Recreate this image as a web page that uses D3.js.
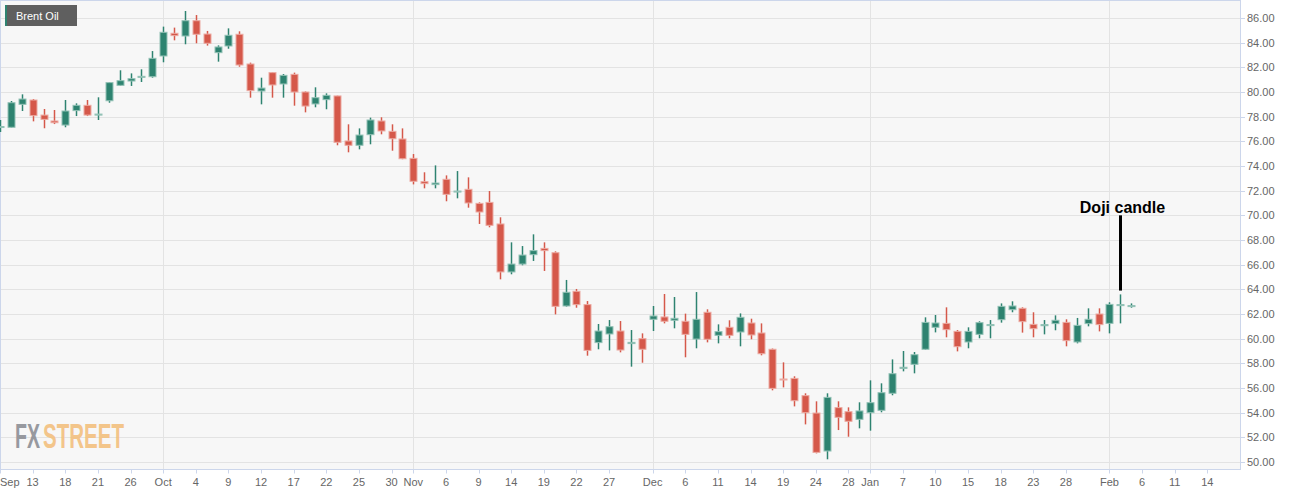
<!DOCTYPE html>
<html>
<head>
<meta charset="utf-8">
<script src="https://cdn.jsdelivr.net/npm/d3@7/dist/d3.min.js"></script>
<style>
  html, body { margin: 0; padding: 0; background: #ffffff; }
  svg { display: block; font-family: "Liberation Sans", Arial, sans-serif; }
</style>
</head>
<body>
<svg id="chart" width="1299" height="495"></svg>
<script>
// ---- data (trading days) ----
const dates = [
  "2018-09-10","2018-09-11","2018-09-12","2018-09-13","2018-09-14","2018-09-17","2018-09-18","2018-09-19","2018-09-20","2018-09-21",
  "2018-09-24","2018-09-25","2018-09-26","2018-09-27","2018-09-28","2018-10-01","2018-10-02","2018-10-03","2018-10-04","2018-10-05",
  "2018-10-08","2018-10-09","2018-10-10","2018-10-11","2018-10-12","2018-10-15","2018-10-16","2018-10-17","2018-10-18","2018-10-19",
  "2018-10-22","2018-10-23","2018-10-24","2018-10-25","2018-10-26","2018-10-29","2018-10-30","2018-10-31","2018-11-01","2018-11-02",
  "2018-11-05","2018-11-06","2018-11-07","2018-11-08","2018-11-09","2018-11-12","2018-11-13","2018-11-14","2018-11-15","2018-11-16",
  "2018-11-19","2018-11-20","2018-11-21","2018-11-22","2018-11-23","2018-11-26","2018-11-27","2018-11-28","2018-11-29","2018-11-30",
  "2018-12-03","2018-12-04","2018-12-05","2018-12-06","2018-12-07","2018-12-10","2018-12-11","2018-12-12","2018-12-13","2018-12-14",
  "2018-12-17","2018-12-18","2018-12-19","2018-12-20","2018-12-21","2018-12-24","2018-12-26","2018-12-27","2018-12-28","2018-12-31",
  "2019-01-02","2019-01-03","2019-01-04","2019-01-07","2019-01-08","2019-01-09","2019-01-10","2019-01-11","2019-01-14","2019-01-15",
  "2019-01-16","2019-01-17","2019-01-18","2019-01-21","2019-01-22","2019-01-23","2019-01-24","2019-01-25","2019-01-28","2019-01-29",
  "2019-01-30","2019-01-31","2019-02-01","2019-02-04","2019-02-05"
];
const futureDates = ["2019-02-06","2019-02-07","2019-02-08","2019-02-11","2019-02-12","2019-02-13","2019-02-14","2019-02-15","2019-02-18","2019-02-19"];

const open = [
  77.15,77.14,79.00,79.35,78.13,77.65,77.32,78.49,78.92,78.17,
  79.29,80.54,80.89,81.19,81.24,82.92,84.76,84.54,85.78,84.70,
  83.19,83.73,84.68,82.27,80.08,81.57,80.65,81.43,80.00,79.03,
  79.38,79.68,76.03,75.68,76.54,77.65,76.81,76.19,74.62,72.73,
  72.49,72.92,71.89,72.11,70.97,71.05,69.30,65.41,66.05,66.81,
  67.32,66.97,62.65,63.84,62.76,59.68,60.38,60.62,59.60,60.00,
  61.57,61.76,61.49,61.41,59.97,62.14,60.27,60.92,60.54,61.27,
  60.46,59.14,56.73,56.78,55.38,53.97,50.89,54.41,54.08,53.46,
  54.00,54.19,55.57,57.59,57.92,59.14,60.92,61.24,60.59,59.73,
  60.35,61.10,61.54,62.35,62.46,61.16,61.05,61.22,61.32,59.73,
  61.22,62.00,61.24,62.72,62.62
];
const high = [
  77.73,79.27,79.81,79.43,78.62,78.54,79.35,79.08,79.35,79.57,
  80.80,81.76,81.51,81.84,83.32,85.30,85.22,86.57,86.24,84.95,
  83.78,85.16,84.92,82.38,81.16,81.60,81.46,81.57,80.05,80.38,
  79.89,79.70,77.38,77.05,77.92,77.95,77.38,77.05,74.97,73.49,
  74.05,73.24,73.59,73.08,71.05,71.97,69.84,67.81,67.51,68.46,
  67.81,67.08,64.76,64.03,63.05,61.19,61.51,61.43,60.70,60.43,
  62.65,63.62,63.38,62.03,63.78,62.38,61.16,61.49,62.05,61.62,
  61.24,59.20,58.08,56.95,55.57,54.92,55.57,54.92,54.43,54.84,
  56.62,56.38,58.32,59.00,58.92,61.73,61.92,62.54,60.70,60.92,
  61.41,61.51,62.86,63.03,62.54,62.14,61.51,61.89,61.57,61.68,
  62.46,62.46,62.95,63.59,62.86
];
const low = [
  76.76,77.12,78.46,77.62,77.06,77.40,77.14,78.05,78.05,77.73,
  79.13,80.49,80.49,80.81,81.16,82.41,84.19,83.87,83.95,83.76,
  82.46,83.51,82.05,79.54,79.00,79.54,79.54,78.89,78.35,78.76,
  78.60,75.68,75.11,75.35,75.76,76.57,75.24,74.55,72.51,72.19,
  72.19,71.14,71.38,70.62,69.30,69.03,64.81,65.22,65.95,66.30,
  65.49,61.97,62.60,62.51,58.62,59.14,59.05,58.89,57.73,58.05,
  60.62,61.24,60.84,58.49,59.22,59.70,59.62,60.03,59.38,59.95,
  58.65,55.81,56.05,54.51,53.05,50.70,50.22,52.59,52.05,52.73,
  52.54,54.03,55.41,57.35,57.19,59.10,60.51,60.11,58.97,59.22,
  60.03,60.03,61.30,62.14,60.49,60.11,60.35,60.68,59.38,59.62,
  61.00,60.59,60.43,61.24,62.51
];
const close = [
  77.20,79.13,79.43,78.08,77.78,77.51,78.46,78.92,78.13,78.21,
  80.76,80.92,81.08,81.27,82.73,84.84,84.57,85.78,84.68,83.95,
  83.65,84.60,82.19,80.11,80.32,80.57,81.35,80.00,78.86,79.54,
  79.73,75.92,75.68,76.51,77.73,76.84,76.21,74.59,72.76,72.57,
  72.62,71.70,71.97,71.00,70.27,69.19,65.41,66.05,66.78,67.14,
  67.14,62.62,63.76,62.76,59.05,60.62,60.97,59.08,59.70,59.14,
  61.84,61.41,61.65,60.35,61.57,59.95,60.57,60.27,61.73,60.30,
  58.78,55.97,56.68,54.97,54.00,50.78,55.24,53.62,53.30,54.14,
  54.81,55.62,57.16,57.68,58.70,61.32,61.27,60.73,59.35,60.59,
  61.30,61.14,62.62,62.65,61.38,60.81,61.14,61.49,59.84,61.08,
  61.57,61.14,62.78,62.76,62.68
];

const yTicks = [50,52,54,56,58,60,62,64,66,68,70,72,74,76,78,80,82,84,86];
const xTickDates = ["2018-09-10","2018-09-13","2018-09-18","2018-09-21","2018-09-26","2018-10-01","2018-10-04","2018-10-09","2018-10-12",
  "2018-10-17","2018-10-22","2018-10-25","2018-10-30","2018-11-01","2018-11-06","2018-11-09","2018-11-14","2018-11-19","2018-11-22",
  "2018-11-27","2018-12-03","2018-12-06","2018-12-11","2018-12-14","2018-12-19","2018-12-24","2018-12-28","2019-01-02","2019-01-07",
  "2019-01-10","2019-01-15","2019-01-18","2019-01-23","2019-01-28","2019-02-01","2019-02-06","2019-02-11","2019-02-14"];
const xTickLabels = ["Sep","13","18","21","26","Oct","4","9","12","17","22","25","30","Nov","6","9","14","19","22","27",
  "Dec","6","11","14","19","24","28","Jan","7","10","15","18","23","28","Feb","6","11","14"];
const monthStarts = ["2018-10-01","2018-11-01","2018-12-03","2019-01-02","2019-02-01"];

const seriesName = "Brent Oil";
const annotationText = "Doji candle";
const annotationDate = "2019-02-04";
const logoParts = ["FX", "STREET"];

// ---- layout ----
const plot = {left: 0, right: 1240, top: 0.5, bottom: 469.5};
const allDates = dates.concat(futureDates);
const idx = d => allDates.indexOf(d);

const x = d3.scaleLinear().domain([0, 114]).range([plot.left, plot.right]);
const y = d3.scaleLinear().domain([50, 86]).range([462, 18]);

const svg = d3.select("#chart");

svg.append("rect").attr("x", plot.left).attr("y", plot.top)
  .attr("width", plot.right - plot.left).attr("height", plot.bottom - plot.top)
  .attr("fill", "#f7f7f7");

// horizontal grid
svg.append("g").selectAll("line").data(yTicks).join("line")
  .attr("x1", plot.left).attr("x2", plot.right)
  .attr("y1", d => Math.round(y(d)) + 0.5).attr("y2", d => Math.round(y(d)) + 0.5)
  .attr("stroke", "#e3e3e3").attr("stroke-width", 1);

// vertical month grid
svg.append("g").selectAll("line").data(monthStarts).join("line")
  .attr("x1", d => Math.round(x(idx(d))) + 0.5).attr("x2", d => Math.round(x(idx(d))) + 0.5)
  .attr("y1", plot.top).attr("y2", plot.bottom)
  .attr("stroke", "#e3e3e3").attr("stroke-width", 1);

// logo watermark: each part squeezed horizontally with a transform
const logo = svg.append("g").attr("opacity", 0.9);
const logoSpec = [
  {t: logoParts[0], x0: 15, w: 25, fill: "#8d8f96"},
  {t: logoParts[1], x0: 43, w: 81, fill: "#f3c07f"}
];
logoSpec.forEach(s => {
  const gg = logo.append("g");
  const tx = gg.append("text").attr("x", 0).attr("y", 0)
    .attr("font-size", 35).attr("font-weight", "bold").attr("fill", s.fill).text(s.t);
  const len = tx.node().getComputedTextLength();
  gg.attr("transform", `translate(${s.x0},448) scale(${s.w / len},1)`);
});

// plot border
svg.append("rect").attr("x", plot.left + 0.5).attr("y", plot.top)
  .attr("width", plot.right - plot.left).attr("height", plot.bottom - plot.top)
  .attr("fill", "none").attr("stroke", "#ccd6eb").attr("stroke-width", 1);

// candles
const candles = dates.map((d, i) => ({d, i, o: open[i], h: high[i], l: low[i], c: close[i]}));
const green = "#2e8370", red = "#d5584a";
const greenEdge = "#93c2b6", redEdge = "#ecaaa2";
const bodyW = 7;
const g = svg.append("g").selectAll("g").data(candles).join("g")
  .attr("transform", d => `translate(${Math.round(x(d.i)) + 0.5},0)`);
g.append("line")
  .attr("y1", d => y(d.h)).attr("y2", d => y(d.l))
  .attr("stroke", d => d.c >= d.o ? green : red).attr("stroke-width", 1.5);
g.append("rect")
  .attr("x", -bodyW / 2)
  .attr("y", d => y(Math.max(d.o, d.c)))
  .attr("width", bodyW)
  .attr("height", d => Math.max(1, Math.abs(y(d.o) - y(d.c))))
  .attr("fill", d => d.c >= d.o ? green : red)
  .attr("stroke", d => d.c >= d.o ? greenEdge : redEdge)
  .attr("stroke-width", 1);

// y axis
const ya = svg.append("g");
ya.selectAll("line").data(yTicks).join("line")
  .attr("x1", plot.right).attr("x2", plot.right + 5)
  .attr("y1", d => Math.round(y(d)) + 0.5).attr("y2", d => Math.round(y(d)) + 0.5)
  .attr("stroke", "#ccd6eb");
ya.selectAll("text").data(yTicks).join("text")
  .attr("x", plot.right + 7).attr("y", d => y(d) + 4)
  .attr("font-size", 11).attr("fill", "#666666")
  .text(d => d3.format(".2f")(d));

// x axis
const xa = svg.append("g");
xa.selectAll("line").data(xTickDates).join("line")
  .attr("x1", d => Math.round(x(idx(d))) + 0.5).attr("x2", d => Math.round(x(idx(d))) + 0.5)
  .attr("y1", plot.bottom).attr("y2", plot.bottom + 4)
  .attr("stroke", "#ccd6eb");
xa.selectAll("text").data(xTickDates).join("text")
  .attr("x", (d, i) => i === 0 ? 0 : x(idx(d)))
  .attr("y", 486)
  .attr("text-anchor", (d, i) => i === 0 ? "start" : "middle")
  .attr("font-size", 11).attr("fill", "#666666")
  .text((d, i) => xTickLabels[i]);

// legend tag
svg.append("rect").attr("x", 5).attr("y", 5).attr("width", 72).attr("height", 21).attr("fill", "#5f5f5f");
svg.append("rect").attr("x", 5).attr("y", 5).attr("width", 2).attr("height", 21).attr("fill", green);
svg.append("text").attr("x", 16).attr("y", 20).attr("font-size", 11).attr("fill", "#ffffff").text(seriesName);

// annotation
const ax = Math.round(x(idx(annotationDate))) + 0.5;
svg.append("line").attr("x1", ax).attr("x2", ax)
  .attr("y1", y(70)).attr("y2", y(63.9))
  .attr("stroke", "#000").attr("stroke-width", 3);
svg.append("text").attr("x", ax + 2).attr("y", 212.5)
  .attr("text-anchor", "middle").attr("font-size", 16).attr("font-weight", "bold")
  .attr("fill", "#000").text(annotationText);
</script>
</body>
</html>
